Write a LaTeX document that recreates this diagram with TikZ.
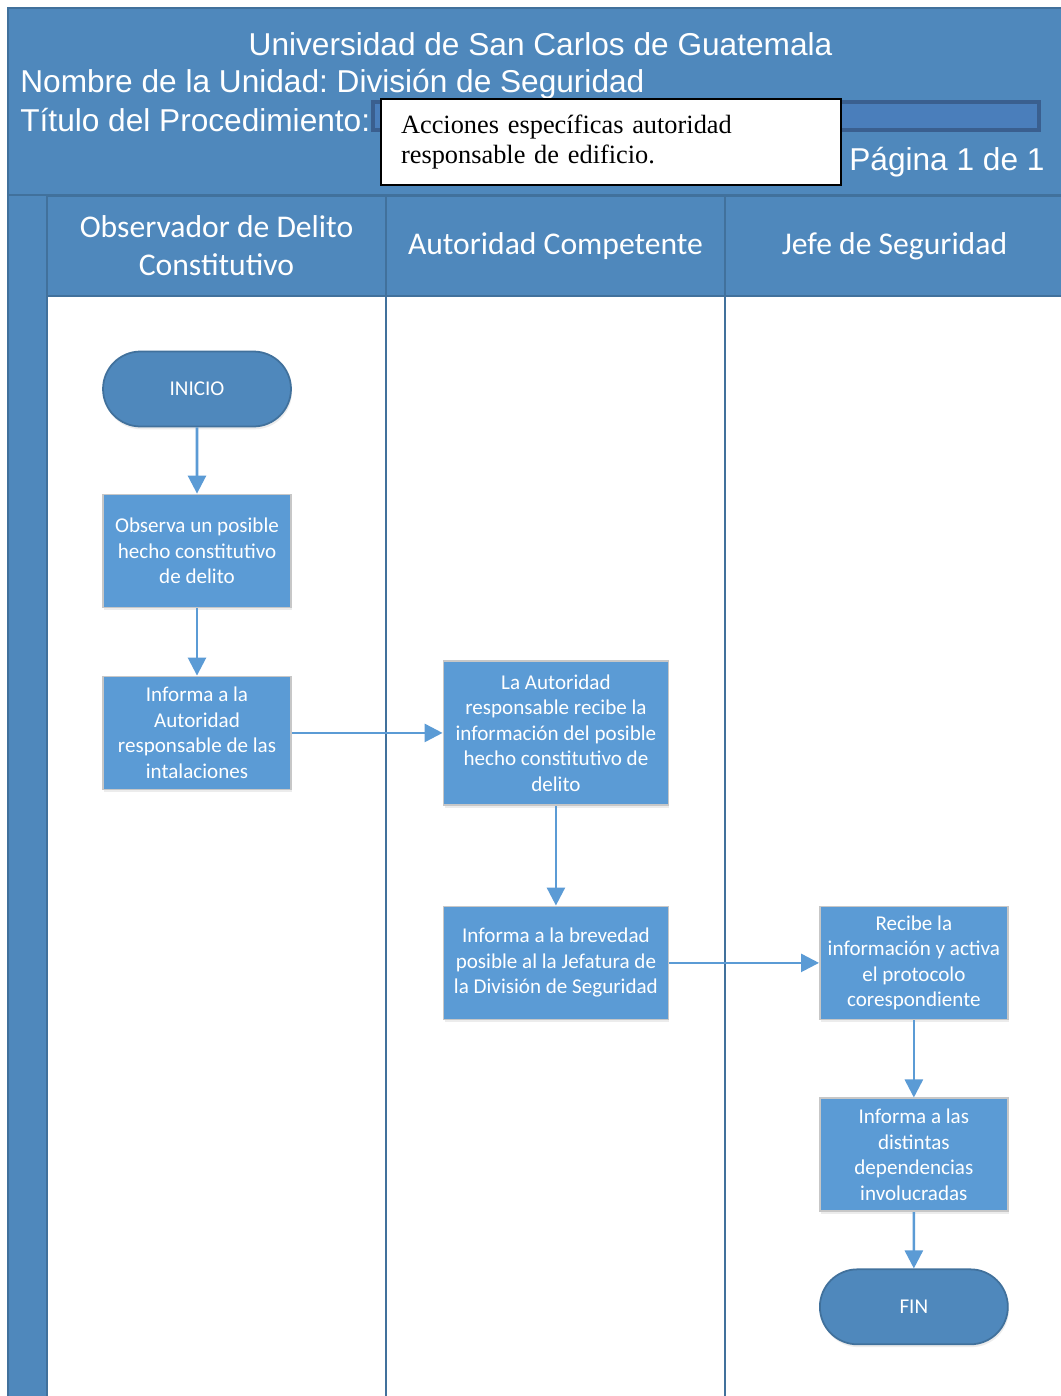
\documentclass[tikz,border=0pt]{standalone}
\usepackage{fontspec}
\setmainfont{Liberation Sans}
\newfontfamily\calibrifont{Carlito}
\newfontfamily\timesfont{Liberation Serif}
\usetikzlibrary{arrows.meta, positioning, shapes.misc, shadows}
\definecolor{laneblue}{HTML}{4F88BC}
\definecolor{laneline}{HTML}{41719C}
\definecolor{boxblue}{HTML}{5B9BD5}
\definecolor{barblue}{HTML}{4A7EBB}
\definecolor{bardark}{HTML}{3A5F8F}
\frenchspacing

\begin{document}
\begin{tikzpicture}[
        x=0.02cm, y=-0.02cm, on grid,
        >={Triangle[length=0.36cm,width=0.36cm]},
        process/.style={rectangle, fill=boxblue, draw=black!22, line width=1pt, text=white, align=center,
          font=\calibrifont\fontsize{12}{14.5}\selectfont, minimum width=3.76cm, minimum height=2.26cm, inner sep=0pt,
          drop shadow={opacity=0.15, shadow xshift=0.6pt, shadow yshift=-1.6pt}},
        terminal/.style={rounded rectangle, fill=laneblue, draw=laneline, line width=1pt, text=white,
          font=\calibrifont\fontsize{12}{14.5}\selectfont, minimum width=3.76cm, minimum height=1.5cm, inner sep=0pt,
          drop shadow={opacity=0.15, shadow xshift=0.6pt, shadow yshift=-1.6pt}},
        lanehead/.style={rectangle, fill=laneblue, draw=laneline, line width=1pt, text=white, align=center,
          font=\calibrifont\fontsize{18}{21.5}\selectfont, minimum width=6.78cm, minimum height=2cm, inner sep=0pt},
        headtext/.style={text=white, font=\fontsize{18}{21}\selectfont, inner sep=0pt},
        flow/.style={->, draw=boxblue, line width=1.5pt},
        ]
        \useasboundingbox (0,0) rectangle (1061,1396);

        \fill[white] (0,0) rectangle (1061,1396);
        \draw[fill=laneblue, draw=laneline, line width=1pt] (8,8) rectangle (1070,195);
        \draw[fill=laneblue, draw=laneline, line width=1pt] (8,195) rectangle (47,1405);

        \node[headtext, anchor=base] (univ) at (540.5,55) {Universidad de San Carlos de Guatemala};
        \node[headtext, anchor=base west] (unidad) at (20,92) {Nombre de la Unidad: División de Seguridad};
        \node[headtext, anchor=base west] (proc) at (20,131) {Título del Procedimiento:};
        \node[headtext, anchor=base west] (pagina) at (849,170) {Página 1 de 1};

        \draw[fill=barblue, draw=bardark, line width=2pt] (373,102) rectangle (1039,130);
        \node[rectangle, fill=white, draw=black, line width=0.8pt, minimum width=9.2cm, minimum height=1.72cm,
          text width=8.4cm, inner xsep=0.4cm, align=left, font=\timesfont\fontsize{15}{17}\selectfont]
          (titulo) at (611,142) {Acciones específicas autoridad\\responsable de edificio.};

        \node[lanehead] (obsLane) at (216.5,246) {Observador de Delito\\Constitutivo};
        \node[lanehead] (autLane) at (555.5,246) {Autoridad Competente};
        \node[lanehead] (jefeLane) at (894.5,246) {Jefe de Seguridad};

        \draw[laneline, line width=1.2pt] (386,295) -- (386,1405);
        \draw[laneline, line width=1.2pt] (725,295) -- (725,1405);

        \node[terminal] (inicio) at (197,389) {INICIO};
        \node[process, below=3.24cm of inicio] (observa) {Observa un posible\\hecho constitutivo\\de delito};
        \node[process, below=3.64cm of observa] (informaAut) {Informa a la\\Autoridad\\responsable de las\\intalaciones};
        \node[process, right=7.18cm of informaAut, minimum width=4.5cm, minimum height=2.88cm] (recibeAut)
          {La Autoridad\\responsable recibe la\\información del posible\\hecho constitutivo de\\delito};
        \node[process, below=4.6cm of recibeAut, minimum width=4.5cm] (informaJef)
          {Informa a la brevedad\\posible al la Jefatura de\\la División de Seguridad};
        \node[process, right=7.16cm of informaJef] (recibeJef) {Recibe la\\información y activa\\el protocolo\\corespondiente};
        \node[process, below=3.84cm of recibeJef] (informaDep) {Informa a las\\distintas\\dependencias\\involucradas};
        \node[terminal, below=3.04cm of informaDep] (fin) {FIN};

        \draw[flow] (inicio) -- (observa);
        \draw[flow] (observa) -- (informaAut);
        \draw[flow] (informaAut) -- (recibeAut);
        \draw[flow] (recibeAut) -- (informaJef);
        \draw[flow] (informaJef) -- (recibeJef);
        \draw[flow] (recibeJef) -- (informaDep);
        \draw[flow] (informaDep) -- (fin);
      \end{tikzpicture}
\end{document}
